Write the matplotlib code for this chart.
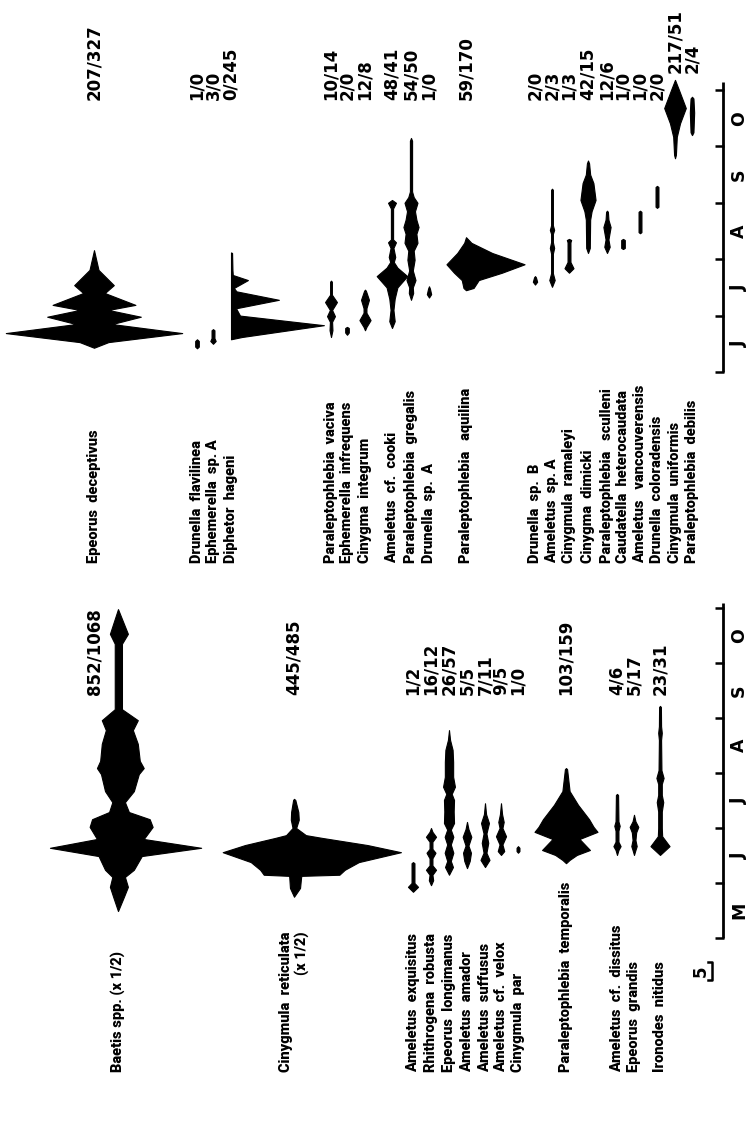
import matplotlib
matplotlib.use("Agg")
import matplotlib.pyplot as plt

# Seasonal kite diagrams of mayfly nymphs.
# Time is counted in months from 1 May (1 May = 0, 1 June = 1, ..., 1 Nov = 6).
# Widths are numbers per sample; drawn at SCALE_PX pixels per unit.

FIG_W, FIG_H = 746, 1136
SCALE_PX = 3.6
AXIS_X = 723
NAME_FONT = ["Roboto", "DejaVu Sans"]
NUM_FONT = ["DejaVu Sans"]

# ---------------- lower panel: May - October ----------------
BAETIS_T = [0.49, 0.75, 0.93, 1.11, 1.24, 1.49, 1.64, 1.80, 2.02, 2.16, 2.29, 2.47,
            2.67, 2.98, 3.09, 3.22, 3.53, 3.78, 3.96, 4.16, 4.91, 5.35, 5.53, 5.98]
BAETIS_W = [0, 3, 5, 3.5, 8, 12, 42, 13, 17.5, 16, 5.5, 3.5,
            8, 10.5, 13, 11, 10, 7.5, 10, 2, 2, 2, 5, 0]

CRETIC_T = [0.75, 0.91, 1.11, 1.13, 1.15, 1.24, 1.38, 1.56, 1.69, 1.82, 1.87, 2.0, 2.15, 2.29, 2.51, 2.53]
CRETIC_W = [0, 2.8, 3.3, 3.5, 21, 23.5, 30, 49.5, 34, 13, 5.5, 1, 2.2, 2, 0.6, 0]

AEXQ_T = [0.84, 0.93, 1.0, 1.36, 1.38]
AEXQ_W = [0, 2.8, 0.8, 0.8, 0]

RROB_T = [0.96, 1.05, 1.15, 1.24, 1.32, 1.45, 1.55, 1.62, 1.75, 1.84, 1.93, 2.0]
RROB_W = [0, 1.2, 0.8, 2.8, 0.8, 0.8, 2.5, 0.8, 0.8, 2.8, 0.8, 0]

ELONG_T = [1.15, 1.29, 1.4, 1.55, 1.7, 1.84, 1.97, 2.09, 2.3, 2.51, 2.62, 2.75, 2.93, 3.2, 3.42, 3.6, 3.78]
ELONG_W = [0, 2.2, 1, 2.4, 1, 2.4, 1, 2.8, 2.6, 2.8, 1.5, 3.3, 2.3, 2.3, 2.0, 0.6, 0]

AAMA_T = [1.27, 1.4, 1.55, 1.68, 1.84, 1.98, 2.11]
AAMA_W = [0, 1.5, 2.2, 0.8, 2.4, 0.8, 0]

ASUF_T = [1.29, 1.42, 1.55, 1.73, 1.9, 2.09, 2.25, 2.45]
ASUF_W = [0, 2.5, 0.8, 1.8, 0.8, 2.2, 0.6, 0]

AVEL_T = [1.51, 1.58, 1.7, 1.85, 2.0, 2.11, 2.25, 2.45]
AVEL_W = [0, 1.8, 0.8, 2.8, 0.8, 1.5, 0.6, 0]

CPAR_T = [1.55, 1.58, 1.64, 1.67]
CPAR_W = [0, 0.8, 0.8, 0]

PTEMP_T = [1.36, 1.42, 1.51, 1.60, 1.80, 1.93, 2.02, 2.16, 2.42, 2.67, 3.07, 3.09]
PTEMP_W = [0, 2, 6, 13.3, 7.5, 17.5, 15.3, 12.8, 6.7, 2, 0.6, 0]

ADIS_T = [1.51, 1.6, 1.67, 1.75, 1.95, 2.04, 2.12, 2.6, 2.62]
ADIS_W = [0, 0.8, 2, 0.8, 0.8, 1.5, 0.8, 0.6, 0]

EGRAN_T = [1.51, 1.6, 1.67, 1.78, 1.92, 2.02, 2.12, 2.24]
EGRAN_W = [0, 0.8, 1.5, 0.8, 1.2, 2.4, 0.8, 0]

IRON_T = [1.51, 1.67, 1.85, 2.0, 2.3, 2.47, 2.6, 2.8, 2.91, 3.05, 3.6, 3.73, 3.85, 4.2, 4.22]
IRON_W = [0, 5.3, 1.2, 1, 1, 1.8, 1, 1, 2, 0.8, 0.6, 1, 0.6, 0.5, 0]

LOW_NAMES = ["Baetis spp. (x 1/2)", "Cinygmula  reticulata\n(x 1/2)",
             "Ameletus  exquisitus", "Rhithrogena  robusta", "Epeorus  longimanus",
             "Ameletus  amador", "Ameletus  suffusus", "Ameletus  cf.  velox",
             "Cinygmula  par", "Paraleptophlebia  temporalis",
             "Ameletus  cf.  dissitus", "Epeorus  grandis", "Ironodes  nitidus"]
LOW_COUNTS = ["852/1068", "445/485", "1/2", "16/12", "26/57", "5/5", "7/11", "9/5",
              "1/0", "103/159", "4/6", "5/17", "23/31"]
LOW_SERIES = [(BAETIS_T, BAETIS_W), (CRETIC_T, CRETIC_W), (AEXQ_T, AEXQ_W),
              (RROB_T, RROB_W), (ELONG_T, ELONG_W), (AAMA_T, AAMA_W),
              (ASUF_T, ASUF_W), (AVEL_T, AVEL_W), (CPAR_T, CPAR_W),
              (PTEMP_T, PTEMP_W), (ADIS_T, ADIS_W), (EGRAN_T, EGRAN_W),
              (IRON_T, IRON_W)]
LOW_X = [118, 294, 413, 431, 449, 467, 485, 501, 518, 566, 617, 634, 660]
LOW_COUNT_X = [95, 294, 413, 431, 449, 467, 485, 501, 518, 566, 617, 634, 660]
LOW_MONTHS = ["M", "J", "J", "A", "S", "O"]
LOW_LEFT_SHARE = {0: 0.45, 1: 0.4}

# ---------------- upper panel: June - October ----------------
EDEC_T = [1.43, 1.53, 1.69, 1.85, 1.98, 2.10, 2.19, 2.40, 2.54, 2.81, 3.16]
EDEC_W = [0, 8, 49, 10, 26, 8, 23, 6, 11, 2.5, 0]

DFLAV_T = [1.42, 1.45, 1.55, 1.58]
DFLAV_W = [0, 1, 1, 0]

EPHA_T = [1.5, 1.55, 1.6, 1.74, 1.76]
EPHA_W = [0, 1.5, 0.8, 0.8, 0]

DHAG_T = [1.58, 1.62, 1.83, 2.0, 2.13, 2.28, 2.43, 2.49, 2.63, 2.72, 2.81, 3.11, 3.12]
DHAG_W = [0, 3, 25.8, 2.5, 1.4, 13.3, 1.5, 0.8, 4.7, 0.5, 0.4, 0.3, 0]

PVAC_T = [1.62, 1.74, 1.89, 1.99, 2.10, 2.24, 2.37, 2.6, 2.62]
PVAC_W = [0, 0.8, 0.6, 2.2, 0.6, 3.3, 0.5, 0.5, 0]

EINF_T = [1.66, 1.7, 1.78, 1.8]
EINF_W = [0, 1, 1, 0]

CINT_T = [1.74, 1.8, 1.92, 2.05, 2.13, 2.28, 2.44, 2.46]
CINT_W = [0, 0.8, 3.1, 0.8, 0.8, 2.2, 0.5, 0]

ACOOK_T = [1.78, 1.9, 2.1, 2.3, 2.5, 2.7, 2.85, 2.95, 3.04, 3.2, 3.3, 3.35, 3.9, 4.0, 4.05]
ACOOK_W = [0, 1.5, 0.8, 1.5, 3, 8.5, 3, 1, 1.8, 0.8, 2.2, 0.6, 0.6, 2.2, 0]

PGREG_T = [2.28, 2.4, 2.5, 2.63, 2.8, 2.99, 3.15, 3.29, 3.45, 3.57, 3.7, 3.85, 4.0, 4.1, 4.2, 5.1, 5.15]
PGREG_W = [0, 1.2, 1, 2.5, 1, 2, 1.5, 3.6, 3, 4.2, 3, 2.2, 3.6, 1.5, 0.6, 0.6, 0]

DSPA_T = [2.32, 2.38, 2.48, 2.52]
DSPA_W = [0, 1.2, 0.5, 0]

PAQU_T = [2.45, 2.49, 2.63, 2.76, 2.91, 3.11, 3.29, 3.39]
PAQU_W = [0, 2.8, 4.7, 13.3, 21.7, 9.7, 2, 0]

DSPB_T = [2.55, 2.6, 2.68, 2.7]
DSPB_W = [0, 1.2, 0.5, 0]

ASPA_T = [2.51, 2.63, 2.75, 3.1, 3.2, 3.3, 3.45, 3.52, 3.6, 4.23, 4.25]
ASPA_W = [0, 1.5, 0.5, 0.5, 1.2, 0.5, 0.5, 1.2, 0.5, 0.5, 0]

CRAM_T = [2.76, 2.84, 2.95, 3.3, 3.34, 3.36]
CRAM_W = [0, 2.5, 0.8, 0.8, 1.2, 0]

CDIM_T = [3.11, 3.2, 3.7, 3.85, 4.05, 4.35, 4.5, 4.7, 4.75]
CDIM_W = [0, 1, 1.2, 2, 4.2, 3, 1.2, 0.6, 0]

PSCU_T = [3.11, 3.22, 3.35, 3.57, 3.7, 3.84, 3.86]
PSCU_W = [0, 1.5, 0.8, 2, 0.8, 0.5, 0]

CHET_T = [3.18, 3.2, 3.34, 3.36]
CHET_W = [0, 1, 1, 0]

AVAN_T = [3.46, 3.48, 3.84, 3.86]
AVAN_W = [0, 0.8, 0.8, 0]

DCOL_T = [3.91, 3.93, 4.28, 4.3]
DCOL_W = [0, 0.8, 0.8, 0]

CUNI_T = [4.79, 4.85, 5.17, 5.41, 5.68, 6.0, 6.18]
CUNI_W = [0, 0.5, 1, 2.8, 6, 2.2, 0]

PDEB_T = [5.2, 5.25, 5.6, 5.85, 5.88]
PDEB_W = [0, 0.8, 1.2, 0.8, 0]

UP_NAMES = ["Epeorus  deceptivus", "Drunella  flavilinea", "Ephemerella  sp. A",
            "Diphetor  hageni", "Paraleptophlebia  vaciva", "Ephemerella  infrequens",
            "Cinygma  integrum", "Ameletus  cf.  cooki", "Paraleptophlebia  gregalis",
            "Drunella  sp.  A", "Paraleptophlebia   aquilina", "Drunella  sp.  B",
            "Ameletus  sp. A", "Cinygmula  ramaleyi", "Cinygma  dimicki",
            "Paraleptophlebia   sculleni", "Caudatella  heterocaudata",
            "Ameletus   vancouverensis", "Drunella  coloradensis",
            "Cinygmula  uniformis", "Paraleptophlebia  debilis"]
UP_COUNTS = ["207/327", "1/0", "3/0", "0/245", "10/14", "2/0", "12/8", "48/41",
             "54/50", "1/0", "59/170", "2/0", "2/3", "1/3", "42/15", "12/6", "1/0",
             "1/0", "2/0", "217/51", "2/4"]
UP_SERIES = [(EDEC_T, EDEC_W), (DFLAV_T, DFLAV_W), (EPHA_T, EPHA_W), (DHAG_T, DHAG_W),
             (PVAC_T, PVAC_W), (EINF_T, EINF_W), (CINT_T, CINT_W), (ACOOK_T, ACOOK_W),
             (PGREG_T, PGREG_W), (DSPA_T, DSPA_W), (PAQU_T, PAQU_W), (DSPB_T, DSPB_W),
             (ASPA_T, ASPA_W), (CRAM_T, CRAM_W), (CDIM_T, CDIM_W), (PSCU_T, PSCU_W),
             (CHET_T, CHET_W), (AVAN_T, AVAN_W), (DCOL_T, DCOL_W), (CUNI_T, CUNI_W),
             (PDEB_T, PDEB_W)]
UP_X = [94, 197, 213, 231, 331, 347, 365, 392, 411, 429, 466, 535, 552, 569, 588,
        607, 623, 640, 657, 675, 692]
UP_MONTHS = ["J", "J", "A", "S", "O"]
UP_LEFT_SHARE = {3: 0.0, 10: 0.25}


def panel_axes(fig, top_px, bottom_px, ref_px, ref_t, px_per_month):
    """Axes over a horizontal band of the figure; x in pixels, y in months."""
    ax = fig.add_axes([0, 1 - bottom_px / FIG_H, 1, (bottom_px - top_px) / FIG_H])
    ax.set_xlim(0, FIG_W)
    ax.set_ylim(ref_t + (ref_px - bottom_px) / px_per_month,
                ref_t + (ref_px - top_px) / px_per_month)
    ax.axis("off")
    return ax


def draw_kite(ax, x0, t, w, left_share=0.5):
    left = [x0 - v * SCALE_PX * left_share for v in w]
    right = [x0 + v * SCALE_PX * (1 - left_share) for v in w]
    ax.fill_betweenx(t, left, right, color="black", lw=0.8, edgecolor="black")


def draw_time_axis(ax, first_month, months, label_x, top_extra):
    ticks = list(range(first_month, first_month + len(months) + 1))
    ax.plot([AXIS_X, AXIS_X], [ticks[0], ticks[-1] + top_extra], color="black", lw=2,
            solid_capstyle="butt")
    ax.hlines(ticks, AXIS_X - 8, AXIS_X + 1, color="black", lw=1.8)
    for i, m in enumerate(months):
        ax.text(label_x, ticks[i] + 0.5, m, rotation=90, ha="center", va="center",
                fontsize=12.5, fontweight="bold", family=NUM_FONT)


def draw_panel(ax, xs, count_xs, series, names, counts, name_t, count_t, left_share):
    for i, (x0, (t, w)) in enumerate(zip(xs, series)):
        draw_kite(ax, x0, t, w, left_share.get(i, 0.5))
        ax.text(x0, name_t, names[i], rotation=90, ha="center", va="bottom",
                fontsize=10.5, fontweight="heavy", family=NAME_FONT,
                multialignment="right", linespacing=1.1)
        ct = count_t[i] if isinstance(count_t, list) else count_t
        ax.text(count_xs[i], ct, counts[i], rotation=90, ha="center", va="bottom",
                fontsize=12, fontweight="bold", family=NUM_FONT)


def main():
    fig = plt.figure(figsize=(FIG_W / 100, FIG_H / 100), dpi=100)
    fig.patch.set_facecolor("white")

    # upper panel: 1 June sits at y = 372 px, 56.4 px per month
    ax_up = panel_axes(fig, 0, 568, 372, 1.0, 56.4)
    up_count_t = [5.82] * 19 + [6.3, 6.3]
    draw_panel(ax_up, UP_X, UP_X, UP_SERIES, UP_NAMES, UP_COUNTS,
               name_t=-2.39, count_t=up_count_t, left_share=UP_LEFT_SHARE)
    draw_time_axis(ax_up, 1, UP_MONTHS, 739, 0.15)

    # lower panel: 1 May sits at y = 938 px, 55 px per month
    ax_low = panel_axes(fig, 568, FIG_H, 938, 0.0, 55.0)
    draw_panel(ax_low, LOW_X, LOW_COUNT_X, LOW_SERIES, LOW_NAMES, LOW_COUNTS,
               name_t=-2.44, count_t=4.42, left_share=LOW_LEFT_SHARE)
    draw_time_axis(ax_low, 0, LOW_MONTHS, 739, 0.1)

    # width scale: bracket of 5 individuals
    ax_low.text(701, -0.6, "5", rotation=90, ha="center", va="center",
                fontsize=12, fontweight="bold", family=NUM_FONT)
    ax_low.plot([708, 712, 712, 708], [-0.44, -0.44, -0.77, -0.77], color="black", lw=1.8)

    fig.savefig("out.png", dpi=100, facecolor="white")


if __name__ == "__main__":
    main()
